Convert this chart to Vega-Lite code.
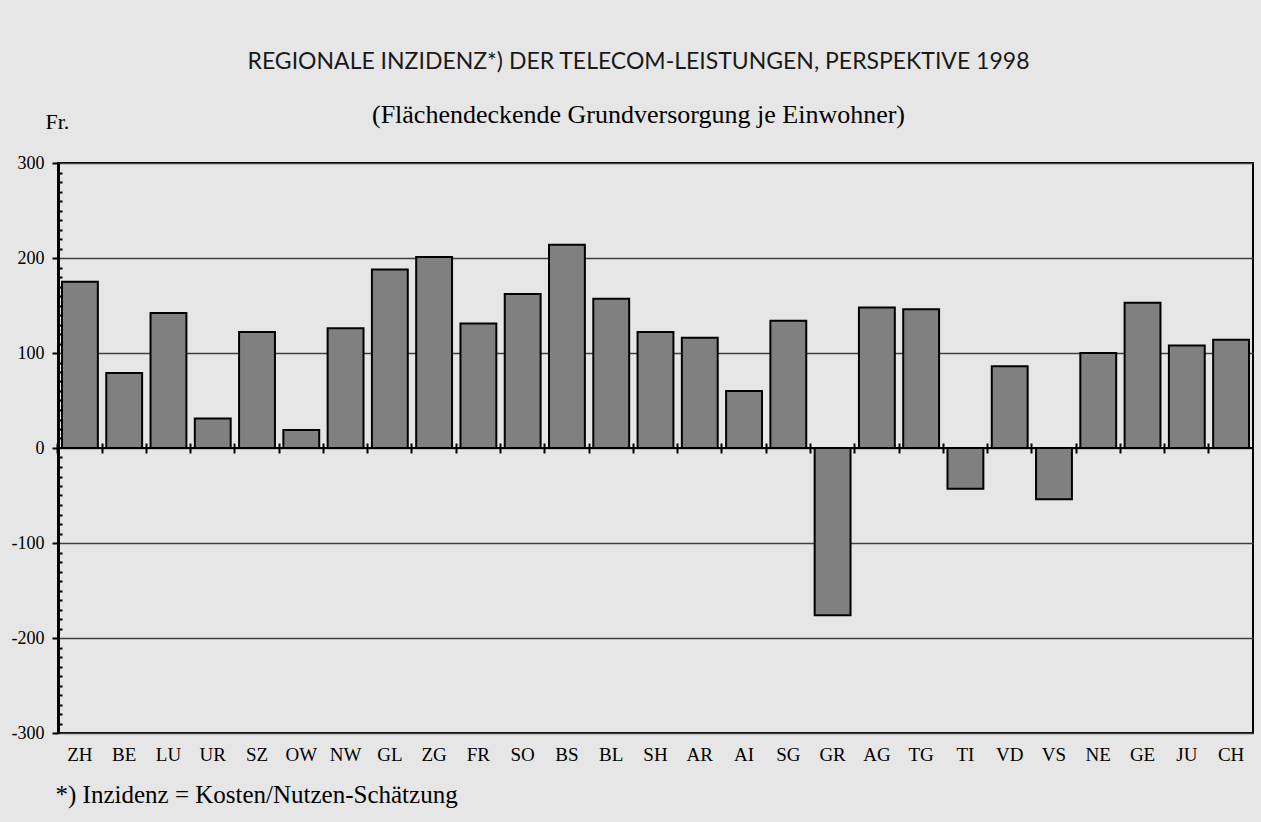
{
  "$schema": "https://vega.github.io/schema/vega-lite/v6.json",
  "width": 1195,
  "height": 570,
  "autosize": {"type": "none"},
  "padding": {"left": 58, "top": 163, "right": 8, "bottom": 89},
  "background": "#e6e6e6",
  "title": {
    "text": "REGIONALE INZIDENZ*) DER TELECOM-LEISTUNGEN, PERSPEKTIVE 1998",
    "subtitle": "(Flächendeckende Grundversorgung je Einwohner)",
    "font": "Lato",
    "fontSize": 23,
    "fontWeight": "normal",
    "color": "#1a1a1a",
    "subtitleFont": "Liberation Serif",
    "subtitleFontSize": 26,
    "subtitleColor": "black",
    "subtitlePadding": 28,
    "offset": -18,
    "anchor": "middle",
    "dx": -17
  },
  "data": {
    "values": [
      {"Kanton": "ZH", "Wert": 175},
      {"Kanton": "BE", "Wert": 79},
      {"Kanton": "LU", "Wert": 142},
      {"Kanton": "UR", "Wert": 31},
      {"Kanton": "SZ", "Wert": 122},
      {"Kanton": "OW", "Wert": 19},
      {"Kanton": "NW", "Wert": 126},
      {"Kanton": "GL", "Wert": 188},
      {"Kanton": "ZG", "Wert": 201},
      {"Kanton": "FR", "Wert": 131},
      {"Kanton": "SO", "Wert": 162},
      {"Kanton": "BS", "Wert": 214},
      {"Kanton": "BL", "Wert": 157},
      {"Kanton": "SH", "Wert": 122},
      {"Kanton": "AR", "Wert": 116},
      {"Kanton": "AI", "Wert": 60},
      {"Kanton": "SG", "Wert": 134},
      {"Kanton": "GR", "Wert": -176},
      {"Kanton": "AG", "Wert": 148},
      {"Kanton": "TG", "Wert": 146},
      {"Kanton": "TI", "Wert": -43},
      {"Kanton": "VD", "Wert": 86},
      {"Kanton": "VS", "Wert": -54},
      {"Kanton": "NE", "Wert": 100},
      {"Kanton": "GE", "Wert": 153},
      {"Kanton": "JU", "Wert": 108},
      {"Kanton": "CH", "Wert": 114}
    ]
  },
  "config": {
    "view": {"stroke": "black", "strokeWidth": 2},
    "axis": {"labelFont": "Liberation Serif", "labelColor": "black"}
  },
  "layer": [
    {
      "mark": {"type": "bar", "fill": "#808080", "stroke": "black", "strokeWidth": 2},
      "encoding": {
        "x": {
          "field": "Kanton", "type": "nominal", "sort": null,
          "scale": {"paddingInner": 0.19, "paddingOuter": 0.09},
          "axis": {
            "orient": "bottom",
            "title": "*) Inzidenz = Kosten/Nutzen-Schätzung",
            "titleFont": "Liberation Serif", "titleFontSize": 25, "titleFontWeight": "normal", "titleColor": "black",
            "titleAnchor": "start", "titleAlign": "left", "titleX": -3, "titleY": 69, "titleBaseline": "alphabetic",
            "labelAngle": 0, "labelFontSize": 19, "ticks": false, "domain": false, "labelPadding": 12, "grid": false
          }
        },
        "y": {
          "field": "Wert", "type": "quantitative",
          "scale": {"domain": [-300, 300], "nice": false},
          "axis": {
            "orient": "left",
            "values": [-300, -200, -100, 0, 100, 200, 300],
            "labelExpr": "'' + datum.value",
            "title": "Fr.", "titleAngle": 0, "titleX": -13, "titleY": -35, "titleAlign": "left", "titleBaseline": "alphabetic",
            "titleFont": "Liberation Serif", "titleFontSize": 22, "titleFontWeight": "normal", "titleColor": "black",
            "labelFontSize": 18, "domainColor": "black", "domainWidth": 3, "tickColor": "black", "tickWidth": 2, "tickSize": 6,
            "labelPadding": 8, "grid": true, "gridColor": "#404040", "gridWidth": 1.5
          }
        }
      }
    },
    {
      "mark": {"type": "bar", "opacity": 0},
      "encoding": {
        "x": {
          "field": "Kanton", "type": "nominal", "sort": null,
          "axis": {
            "orient": "bottom", "title": null, "labels": false, "domain": false, "grid": false,
            "ticks": true, "tickSize": 10, "tickWidth": 2, "tickColor": "black", "bandPosition": -0.117, "offset": -290
          }
        },
        "y": {
          "field": "Wert", "type": "quantitative",
          "axis": {
            "orient": "left", "title": null, "labels": false, "domain": false, "grid": false,
            "values": [-290,-280,-270,-260,-250,-240,-230,-220,-210,-190,-180,-170,-160,-150,-140,-130,-120,-110,-90,-80,-70,-60,-50,-40,-30,-20,-10,10,20,30,40,50,60,70,80,90,110,120,130,140,150,160,170,180,190,210,220,230,240,250,260,270,280,290],
            "tickSize": -4, "tickWidth": 2, "tickColor": "black"
          }
        }
      }
    },
    {
      "mark": {"type": "rule", "color": "black", "strokeWidth": 2},
      "encoding": {"y": {"datum": 0, "type": "quantitative", "axis": null}}
    }
  ],
  "resolve": {"axis": {"x": "independent", "y": "independent"}}
}
